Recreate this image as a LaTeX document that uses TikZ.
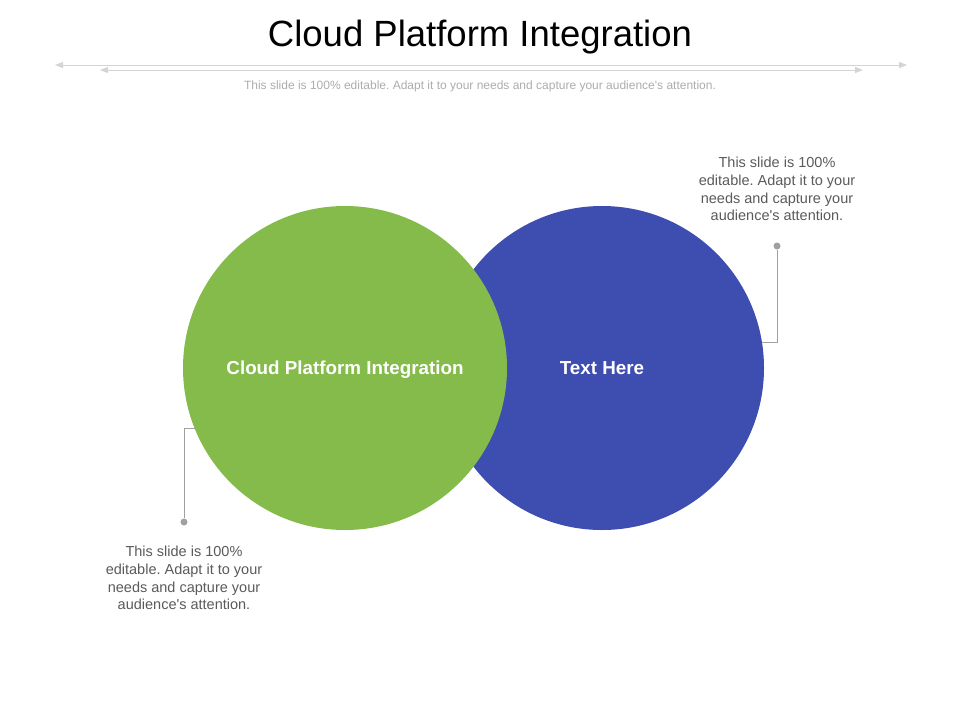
\documentclass[tikz,border=0pt]{standalone}
\usepackage{fontspec}
\setmainfont{Liberation Sans}
\usetikzlibrary{arrows.meta}
\definecolor{cpgreen}{RGB}{132,187,74}
\definecolor{cpblue}{RGB}{62,77,176}
\definecolor{cpgrey}{RGB}{90,90,90}
\definecolor{cplight}{RGB}{172,172,172}
\definecolor{cprule}{RGB}{212,212,212}
\definecolor{cplead}{RGB}{160,160,160}
\frenchspacing
\begin{document}
\begin{tikzpicture}[x=1pt,y=-1pt,
  rule/.style={draw=cprule, line width=1pt, {Triangle[length=8pt,width=6pt]}-{Triangle[length=8pt,width=6pt]}},
  disc/.style={circle, inner sep=0pt, minimum size=324pt},
  disclabel/.style={text=white, font=\fontsize{18.8}{22}\selectfont\bfseries},
  note/.style={text=cpgrey, align=center, font=\fontsize{14.5}{17.7}\selectfont},
  dot/.style={circle, fill=cplead, inner sep=0pt, minimum size=7pt},
  lead/.style={draw=cplead, line width=1pt}]
\useasboundingbox (0,0) rectangle (960,720);
\node[font=\fontsize{36.5}{40}\selectfont] (title) at (480,37){Cloud Platform Integration};
\coordinate (ruleAl) at (55,65);
\coordinate (ruleAr) at (907,65);
\coordinate (ruleBl) at (100,70);
\coordinate (ruleBr) at (863,70);
\draw[rule] (ruleAl) -- (ruleAr);
\draw[rule] (ruleBl) -- (ruleBr);
\node[text=cplight, font=\fontsize{12}{14}\selectfont] (sub) at (480,86){This slide is 100\% editable. Adapt it to your needs and capture your audience\textquotesingle s attention.};
\node[disc, fill=cpblue] (blue) at (602,368){};
\node[disc, fill=cpgreen] (green) at (345,368){};
\node[disclabel] (bluetext) at (602,368){Text Here};
\node[disclabel] (greentext) at (345,370){Cloud Platform Integration};
\node[dot] (rdot) at (777,246){};
\node[dot] (ldot) at (184,522){};
\draw[lead] (blue.9) -| (rdot);
\draw[lead] (green.202.5) -| (ldot);
\node[note] (rnote) at (777,189){This slide is 100\%\\editable. Adapt it to your\\needs and capture your\\audience\textquotesingle s attention.};
\node[note] (lnote) at (184,578){This slide is 100\%\\editable. Adapt it to your\\needs and capture your\\audience\textquotesingle s attention.};
\end{tikzpicture}
\end{document}
